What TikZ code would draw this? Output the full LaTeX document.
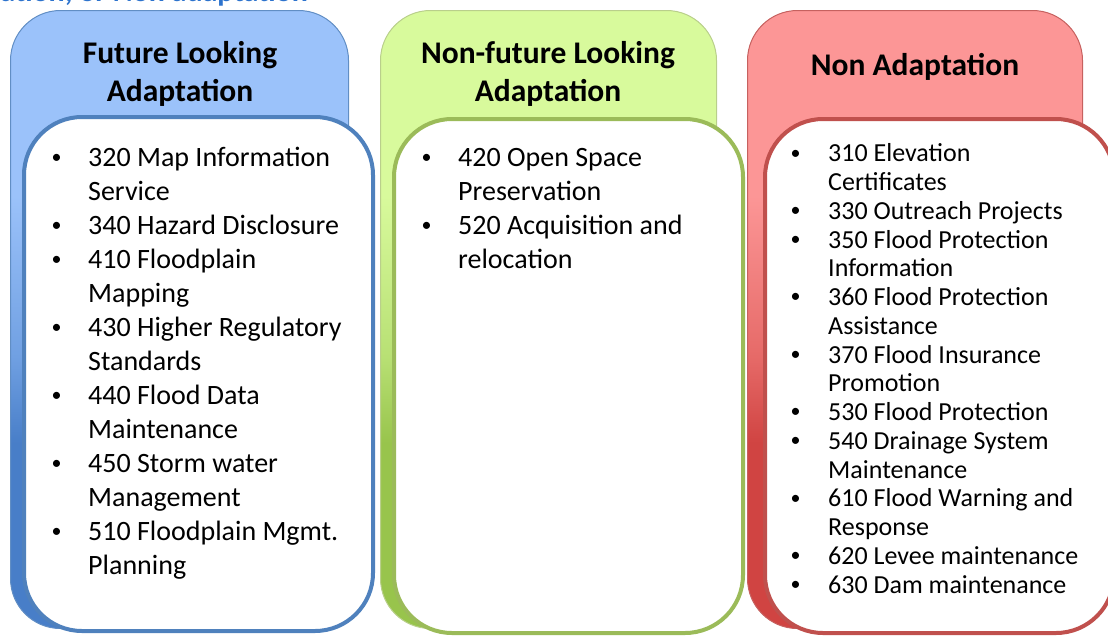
\documentclass[tikz,border=0pt]{standalone}
\usepackage{fontspec}
\setmainfont{Carlito}
\usepackage{tikz}

\definecolor{blueedge}{RGB}{79,129,189}
\definecolor{bluetop}{RGB}{155,194,250}
\definecolor{bluemid}{RGB}{112,160,226}
\definecolor{bluebot}{RGB}{72,126,200}
\definecolor{greenedge}{RGB}{155,187,89}
\definecolor{greentop}{RGB}{216,250,156}
\definecolor{greenmid}{RGB}{184,224,116}
\definecolor{greenbot}{RGB}{152,196,76}
\definecolor{rededge}{RGB}{192,80,77}
\definecolor{redtop}{RGB}{252,150,150}
\definecolor{redmid}{RGB}{230,106,104}
\definecolor{redbot}{RGB}{208,68,66}
\definecolor{titleblue}{RGB}{45,115,205}

% light in the upper half, darker towards the foot
\pgfdeclareverticalshading{bluefade}{100bp}{color(0bp)=(bluebot); color(40bp)=(bluebot);
  color(47bp)=(bluemid); color(60bp)=(bluetop); color(100bp)=(bluetop)}
\pgfdeclareverticalshading{greenfade}{100bp}{color(0bp)=(greenbot); color(40bp)=(greenbot);
  color(47bp)=(greenmid); color(60bp)=(greentop); color(100bp)=(greentop)}
\pgfdeclareverticalshading{redfade}{100bp}{color(0bp)=(redbot); color(40bp)=(redbot);
  color(47bp)=(redmid); color(60bp)=(redtop); color(100bp)=(redtop)}

\tikzset{
  backbox/.style={draw, shade, rectangle, rounded corners=50pt, line width=1pt,
    anchor=north west, minimum width=338pt, minimum height=618pt, inner sep=0pt},
  listbox/.style={draw, fill=white, rectangle, rounded corners=58pt, line width=4pt,
    anchor=north west, minimum width=349pt, minimum height=514pt, inner sep=0pt},
  heading/.style={align=center, font=\bfseries\fontsize{31.5}{38}\selectfont,
    inner sep=0pt, anchor=base},
  items/.style={align=left, font=\fontsize{28}{34}\selectfont,
    inner sep=0pt, anchor=base west}
}
\newcommand\smallbul{\kern-1.5pt\raisebox{2.6pt}{\fontsize{20}{20}\selectfont\textbullet}}
\newcommand\bul{\makebox[35pt][l]{\smallbul}}
\newcommand\ind{\hspace*{35pt}}
\newcommand\rbul{\makebox[36pt][l]{\smallbul}}
\newcommand\rind{\hspace*{36pt}}

\begin{document}
\begin{tikzpicture}[x=1pt, y=-1pt]
  \useasboundingbox (0,0) rectangle (1108,635);

  \node (title) [anchor=base east, inner sep=0pt, text=titleblue,
    font=\bfseries\fontsize{30}{36}\selectfont] at (308,1) {ation, or Non adaptation};

  % future looking (nodes sit on their last baseline)
  \node (blueback) [backbox, draw=blueedge!90, shading=bluefade] at (10,10) {};
  \node (bluelist) [listbox, draw=blueedge] at (22,115) {};
  \node (bluehead) [heading] at (180,101) {Future Looking\\Adaptation};
  \node (blueitems) [items] at (53,574) {%
    \bul 320 Map Information\\ \ind Service\\
    \bul 340 Hazard Disclosure\\
    \bul 410 Floodplain\\ \ind Mapping\\
    \bul 430 Higher Regulatory\\ \ind Standards\\
    \bul 440 Flood Data\\ \ind Maintenance\\
    \bul 450 Storm water\\ \ind Management\\
    \bul 510 Floodplain Mgmt.\\ \ind Planning};

  % non-future looking
  \node (greenback) [backbox, minimum width=336pt, draw=greenedge!70,
    shading=greenfade] at (380,10) {};
  \node (greenlist) [listbox, draw=greenedge] at (392,117) {};
  \node (greenhead) [heading] at (548,101) {Non-future Looking\\Adaptation};
  \node (greenitems) [items] at (423,268) {%
    \bul 420 Open Space\\ \ind Preservation\\
    \bul 520 Acquisition and\\ \ind relocation};

  % non adaptation
  \node (redback) [backbox, minimum width=335pt, draw=rededge!90,
    shading=redfade] at (747,10) {};
  \node (redlist) [listbox, draw=rededge] at (763,117) {};
  \node (redhead) [heading] at (915,75) {Non Adaptation};
  \node (reditems) [items, font=\fontsize{26}{28.75}\selectfont] at (792,593) {%
    \rbul 310 Elevation\\ \rind Certificates\\
    \rbul 330 Outreach Projects\\
    \rbul 350 Flood Protection\\ \rind Information\\
    \rbul 360 Flood Protection\\ \rind Assistance\\
    \rbul 370 Flood Insurance\\ \rind Promotion\\
    \rbul 530 Flood Protection\\
    \rbul 540 Drainage System\\ \rind Maintenance\\
    \rbul 610 Flood Warning and\\ \rind Response\\
    \rbul 620 Levee maintenance\\
    \rbul 630 Dam maintenance};
\end{tikzpicture}
\end{document}
